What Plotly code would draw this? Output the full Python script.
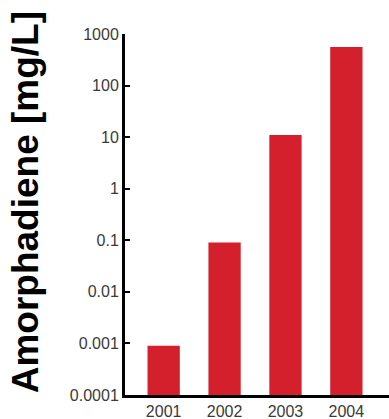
import plotly.graph_objects as go

years = ["2001", "2002", "2003", "2004"]
amorphadiene = [0.0008, 0.09, 11, 560]
tick_vals = [0.0001, 0.001, 0.01, 0.1, 1, 10, 100, 1000]
tick_text = ["0.0001", "0.001", "0.01", "0.1", "1", "10", "100", "1000"]

fig = go.Figure()
fig.add_trace(go.Bar(
    x=list(range(len(years))),
    y=amorphadiene,
    base=0.0001,
    width=0.53,
    marker=dict(color="#d41f2c", line=dict(width=0)),
))

fig.update_layout(
    width=389, height=419,
    margin=dict(l=125, r=0, t=34, b=24),
    plot_bgcolor="white", paper_bgcolor="white",
    showlegend=False,
    font=dict(family="Liberation Sans, Arial, sans-serif", size=16, color="#3a3a3a"),
    xaxis=dict(
        range=[-0.635, 3.70],
        tickvals=list(range(len(years))), ticktext=years,
        showline=True, linecolor="black", linewidth=3,
        ticks="", showgrid=False, zeroline=False,
        tickfont=dict(size=16, color="#3a3a3a"),
    ),
    yaxis=dict(
        type="log", range=[-4, 3],
        tickvals=tick_vals, ticktext=tick_text,
        showline=True, linecolor="black", linewidth=3,
        ticks="inside", ticklen=5, tickwidth=2, tickcolor="black",
        showgrid=False, zeroline=False,
        tickfont=dict(size=16, color="#3a3a3a"),
    ),
    annotations=[dict(
        text="<b>Amorphadiene [mg/L]</b>",
        xref="paper", yref="paper",
        x=-0.376, y=0.533, xanchor="center", yanchor="middle",
        textangle=-90, showarrow=False,
        font=dict(family="Liberation Sans, Arial, sans-serif", size=37, color="black"),
    )],
)

fig.write_html("out.html", config={"displayModeBar": False},
               post_script="document.body.style.margin='0';document.body.style.padding='0';")
